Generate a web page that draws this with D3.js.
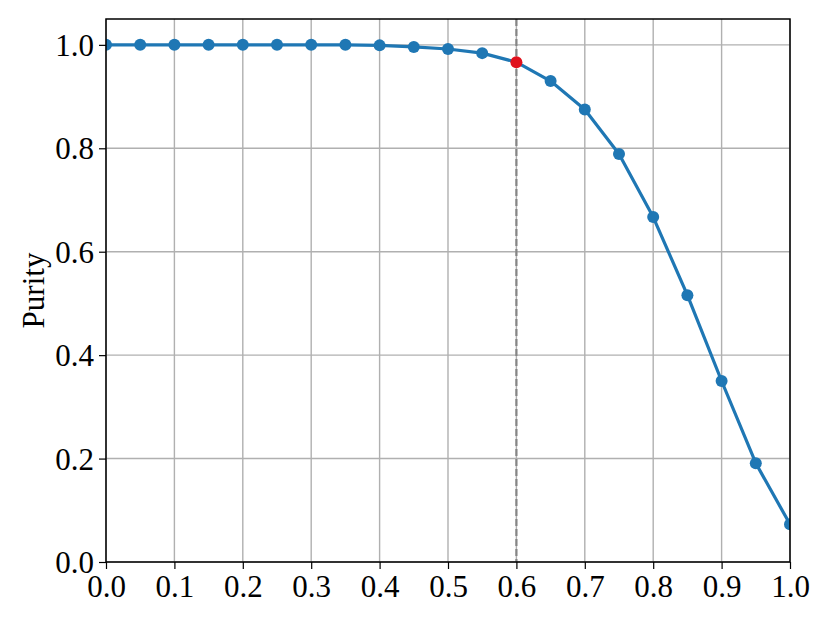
<!DOCTYPE html>
<html>
<head>
  <style>
    body { margin: 0; background: #fff; }
    svg { display: block; }
    .tick text { font-family: "Liberation Serif", serif; font-size: 31px; fill: #000; }
  </style>
</head>
<body>
  <script src="https://d3js.org/d3.v7.min.js"></script>
  <script>
    // threshold values and measured purity
    const thresholds = [0.0, 0.05, 0.1, 0.15, 0.2, 0.25, 0.3, 0.35, 0.4, 0.45, 0.5,
                        0.55, 0.6, 0.65, 0.7, 0.75, 0.8, 0.85, 0.9, 0.95, 1.0];
    const purity = [1.0, 1.0, 1.0, 1.0, 1.0, 1.0, 1.0, 1.0, 0.999, 0.996, 0.992,
                    0.984, 0.9665, 0.930, 0.875, 0.789, 0.667, 0.516, 0.350, 0.191, 0.073];
    const xTicks = [0, 0.1, 0.2, 0.3, 0.4, 0.5, 0.6, 0.7, 0.8, 0.9, 1.0];
    const yTicks = [0, 0.2, 0.4, 0.6, 0.8, 1.0];
    const chosenThreshold = 0.6;

    const width = 830;
    const height = 623;
    const margin = { top: 19, right: 40, bottom: 61, left: 106 };
    const innerW = width - margin.left - margin.right;
    const innerH = height - margin.top - margin.bottom;

    const svg = d3.select('body')
      .append('svg')
      .attr('width', width)
      .attr('height', height);

    const g = svg.append('g')
      .attr('transform', `translate(${margin.left},${margin.top})`);

    const x = d3.scaleLinear().domain([0, 1]).range([0, innerW]);
    const y = d3.scaleLinear().domain([0, 1.05]).range([innerH, 0]);

    const points = thresholds.map((t, i) => ({ t, p: purity[i] }));

    // grid
    g.append('g')
      .selectAll('line')
      .data(xTicks)
      .enter()
      .append('line')
      .attr('x1', d => x(d)).attr('x2', d => x(d))
      .attr('y1', 0).attr('y2', innerH)
      .attr('stroke', '#b0b0b0')
      .attr('stroke-width', 1.4);

    g.append('g')
      .selectAll('line')
      .data(yTicks)
      .enter()
      .append('line')
      .attr('x1', 0).attr('x2', innerW)
      .attr('y1', d => y(d)).attr('y2', d => y(d))
      .attr('stroke', '#b0b0b0')
      .attr('stroke-width', 1.4);

    // dashed marker line at chosen threshold
    g.append('line')
      .attr('x1', x(chosenThreshold)).attr('x2', x(chosenThreshold))
      .attr('y1', 0).attr('y2', innerH)
      .attr('stroke', '#858585')
      .attr('stroke-width', 2.2)
      .attr('stroke-dasharray', '7,3');

    // axes
    const xAxis = d3.axisBottom(x)
      .tickValues(xTicks)
      .tickFormat(d3.format('.1f'))
      .tickSize(7)
      .tickPadding(4);

    const yAxis = d3.axisLeft(y)
      .tickValues(yTicks)
      .tickFormat(d3.format('.1f'))
      .tickSize(7)
      .tickPadding(5);

    const gx = g.append('g')
      .attr('transform', `translate(0,${innerH})`)
      .call(xAxis);
    gx.select('.domain').remove();
    gx.selectAll('.tick line').attr('stroke', '#000').attr('stroke-width', 1.2);
    gx.selectAll('.tick text').attr('dy', '0.76em');

    const gy = g.append('g').call(yAxis);
    gy.select('.domain').remove();
    gy.selectAll('.tick line').attr('stroke', '#000').attr('stroke-width', 1.2);
    gy.selectAll('.tick text').attr('dy', '0.34em');

    // line + markers (clipped to axes)
    svg.append('clipPath').attr('id', 'clip')
      .append('rect')
      .attr('x', 0).attr('y', 0)
      .attr('width', innerW).attr('height', innerH);

    const plot = g.append('g').attr('clip-path', 'url(#clip)');

    const line = d3.line()
      .x(d => x(d.t))
      .y(d => y(d.p));

    plot.append('path')
      .datum(points)
      .attr('fill', 'none')
      .attr('stroke', '#1f77b4')
      .attr('stroke-width', 3.2)
      .attr('stroke-linejoin', 'round')
      .attr('d', line);

    plot.append('g')
      .selectAll('circle')
      .data(points)
      .enter()
      .append('circle')
      .attr('cx', d => x(d.t))
      .attr('cy', d => y(d.p))
      .attr('r', 6)
      .attr('fill', d => Math.abs(d.t - chosenThreshold) < 1e-9 ? '#e0111c' : '#1f77b4');

    // frame
    g.append('rect')
      .attr('x', 0).attr('y', 0)
      .attr('width', innerW).attr('height', innerH)
      .attr('fill', 'none')
      .attr('stroke', '#000')
      .attr('stroke-width', 1.5);

    // y label
    svg.append('text')
      .attr('transform', `translate(44,${margin.top + innerH / 2}) rotate(-90)`)
      .attr('text-anchor', 'middle')
      .style('font-family', '"Liberation Serif", serif')
      .style('font-size', '31px')
      .text('Purity');
  </script>
</body>
</html>
